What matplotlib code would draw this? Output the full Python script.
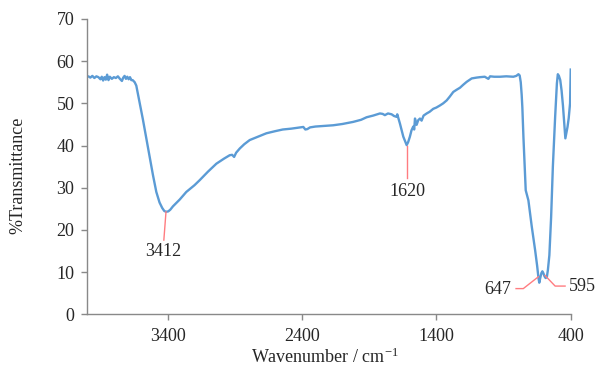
import matplotlib

matplotlib.use("Agg")
import matplotlib.pyplot as plt

plt.rcParams["font.family"] = ["Liberation Serif", "DejaVu Serif"]
plt.rcParams["mathtext.fontset"] = "custom"
plt.rcParams["mathtext.rm"] = "Liberation Serif"

# FTIR spectrum (wavenumber in cm-1, %T)
wavenumber = [
    4000, 3990, 3975, 3960, 3945, 3930, 3915, 3900, 3890, 3880, 3870, 3860, 3850, 3840,
    3830, 3815, 3800, 3785, 3770, 3755, 3740, 3730, 3720, 3710, 3700, 3690, 3680, 3670,
    3660, 3645, 3633, 3610, 3584, 3560, 3534, 3509, 3484, 3460, 3440, 3425, 3412, 3395,
    3380, 3360, 3335, 3310, 3261, 3200, 3161, 3100, 3037, 2980, 2938, 2920, 2905, 2890,
    2863, 2830, 2789, 2720, 2665, 2600, 2543, 2480, 2416, 2390, 2375, 2360, 2340, 2300,
    2168, 2100, 2019, 1960, 1919, 1870, 1820, 1800, 1783, 1760, 1733, 1715, 1696, 1691,
    1671, 1646, 1621, 1610, 1597, 1585, 1572, 1565, 1559, 1547, 1535, 1522, 1510, 1495,
    1472, 1450, 1423, 1400, 1373, 1349, 1323, 1300, 1274, 1250, 1224, 1200, 1174, 1137,
    1100, 1075, 1040, 1013, 1000, 970, 926, 880, 827, 805, 789, 780, 772, 765, 760, 752,
    745, 735, 715, 690, 665, 650, 640, 634, 627, 618, 611, 603, 595, 587, 578, 570, 559,
    546, 533, 516, 503, 496, 488, 478, 468, 458, 448, 440, 432, 424, 415, 405, 400,
]
transmittance = [
    56.3, 56.4, 56.1, 56.5, 56.0, 56.4, 56.2, 55.7, 56.3, 55.4, 56.2, 55.6, 56.8, 55.5,
    56.3, 55.8, 56.2, 56.0, 56.4, 55.8, 55.3, 56.1, 56.5, 55.8, 56.3, 55.7, 56.2, 55.5,
    55.5, 55.0, 54.2, 50.5, 46.2, 42.0, 37.5, 33.0, 29.0, 26.5, 25.2, 24.5, 24.3, 24.4,
    24.8, 25.6, 26.4, 27.2, 29.0, 30.6, 31.8, 33.8, 35.7, 36.9, 37.7, 37.8, 37.3, 38.3,
    39.3, 40.3, 41.3, 42.2, 42.9, 43.4, 43.8, 44.0, 44.3, 44.4, 43.8, 43.9, 44.3, 44.5,
    44.8, 45.1, 45.6, 46.1, 46.7, 47.1, 47.6, 47.5, 47.2, 47.6, 47.4, 47.0, 46.8, 47.4,
    45.2, 42.1, 40.1, 40.8, 42.1, 43.6, 44.5, 43.8, 46.4, 44.9, 46.0, 46.4, 45.9, 47.1,
    47.6, 48.0, 48.7, 49.0, 49.5, 50.0, 50.7, 51.6, 52.7, 53.2, 53.7, 54.4, 55.1, 55.9,
    56.1, 56.2, 56.3, 55.8, 56.4, 56.3, 56.3, 56.4, 56.3, 56.5, 56.9, 56.6, 55.0, 52.0,
    49.0, 42.0, 37.0, 29.4, 27.0, 20.8, 15.2, 11.5, 8.6, 7.5, 8.6, 9.8, 10.2, 9.7, 9.0,
    8.6, 8.8, 10.5, 14.0, 23.0, 35.0, 46.8, 54.7, 56.9, 56.5, 55.5, 53.0, 49.5, 45.0,
    41.7, 43.0, 44.4, 46.5, 50.0, 58.0,
]

# peak labels with their red leader lines
peak_labels = ["3412", "1620", "647", "595"]
leader_x = [[3412, 3428], [1619, 1619], [641, 753, 807], [591, 516, 442]]
leader_y = [[24.3, 17.6], [40.0, 32.2], [8.9, 6.1, 6.1], [9.2, 6.7, 6.7]]
label_pos = [(3430, 15.0), (1612, 29.0), (840, 6.0), (412, 6.7)]
label_ha = ["center", "center", "right", "left"]

grey = "#898989"
text_col = "#262626"

fig = plt.figure(figsize=(5.97, 3.71), dpi=100)
ax = fig.add_axes([0.1457, 0.1527, 0.8103, 0.7963])

ax.plot(wavenumber, transmittance, color="#5B9BD5", lw=1.7, solid_joinstyle="round")

for xs, ys in zip(leader_x, leader_y):
    ax.plot(xs, ys, color="#FF7C80", lw=1.0)
for txt, (tx, ty), ha in zip(peak_labels, label_pos, label_ha):
    ax.text(tx, ty, txt, ha=ha, va="center", fontsize=13, color=text_col)

ax.set_xlim(4000, 400)
ax.set_ylim(0, 70)
ax.set_xticks([3400, 2400, 1400, 400])
ax.set_yticks(range(0, 71, 10))

for side in ["top", "right"]:
    ax.spines[side].set_visible(False)
for side in ["left", "bottom"]:
    ax.spines[side].set_color(grey)
    ax.spines[side].set_linewidth(1.0)
ax.tick_params(axis="both", colors=grey, labelcolor=text_col, labelsize=13,
               length=4, width=1.0, direction="out")
ax.tick_params(axis="x", pad=6)
ax.tick_params(axis="y", pad=5)

fig.text(0.545, 0.038, r"Wavenumber / cm$\mathregular{^{-1}}$", ha="center", va="center",
         fontsize=13, color=text_col)
fig.text(0.030, 0.527, "%Transmittance", ha="center", va="center", rotation=90,
         fontsize=13, color=text_col)

fig.savefig("out.png", dpi=100)
